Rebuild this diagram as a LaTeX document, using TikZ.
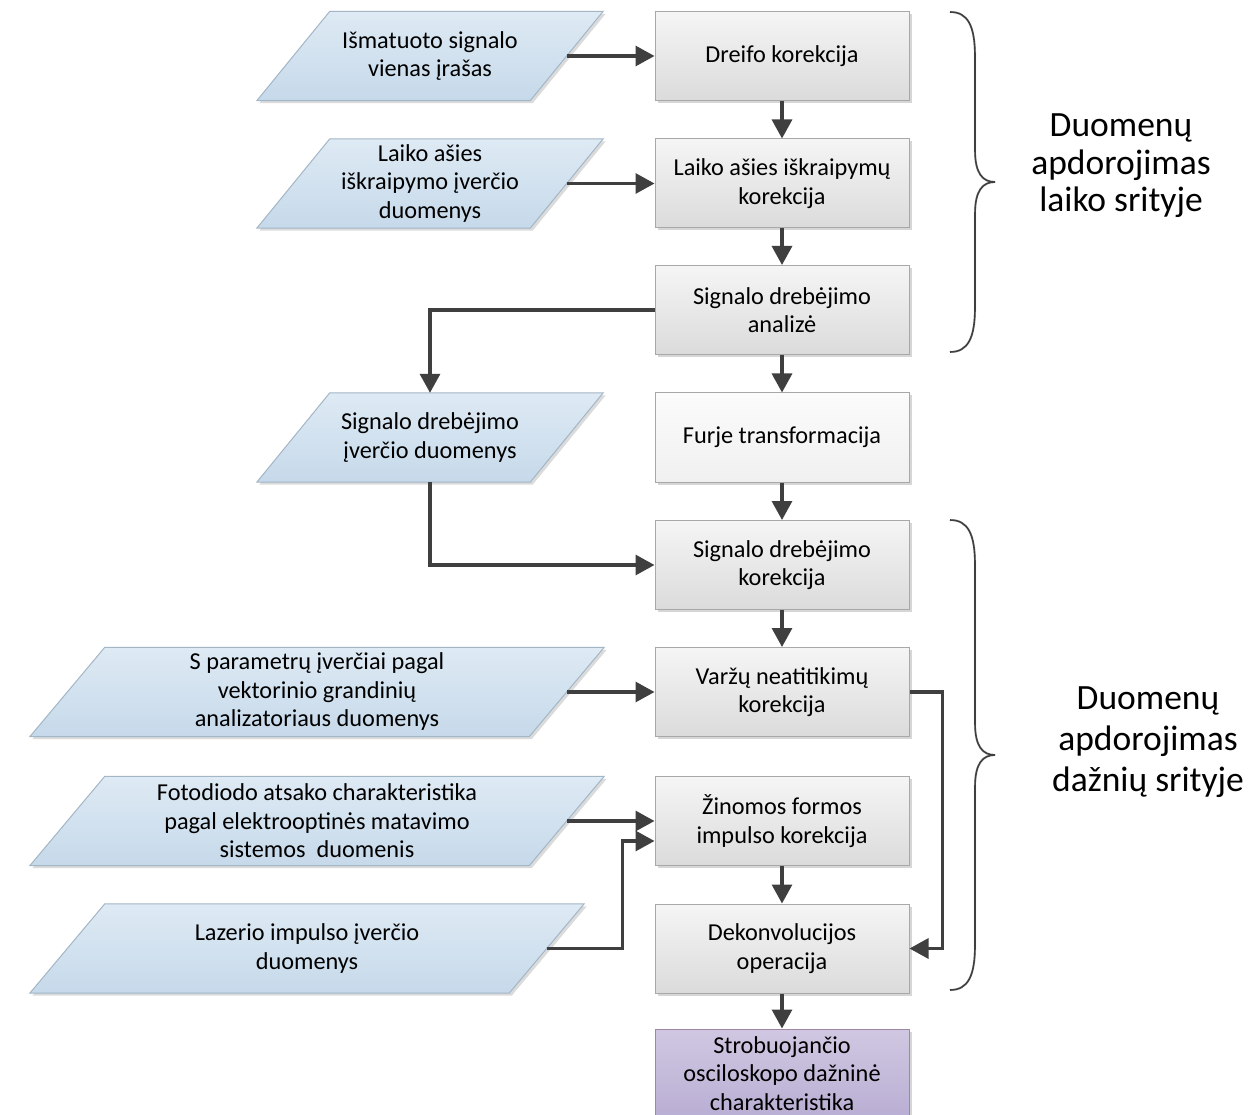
\documentclass[tikz,border=0pt]{standalone}
\usepackage{fontspec}
\setmainfont{Carlito}
\usetikzlibrary{arrows.meta,shadows,calc}

\definecolor{paraA}{HTML}{DEEAF4}
\definecolor{paraB}{HTML}{C6D9EA}
\definecolor{paraLine}{HTML}{A3B6C6}
\definecolor{boxA}{HTML}{F5F5F5}
\definecolor{boxB}{HTML}{DBDBDB}
\definecolor{boxLine}{HTML}{A8A8A8}
\definecolor{plainA}{HTML}{FBFBFB}
\definecolor{plainB}{HTML}{F0F0F0}
\definecolor{purpA}{HTML}{D0C8E2}
\definecolor{purpB}{HTML}{B9AED3}
\definecolor{ink}{HTML}{3F3F3F}

\pgfdeclarelayer{paper}
\pgfdeclarelayer{bg}
\pgfsetlayers{paper,bg,main}

% slanted input shape drawn behind a text node: #1 node name, #2 half slant
\newcommand\slantbox[2]{%
  \begin{pgfonlayer}{bg}
    \fill[black,opacity=0.14]
      ($(#1.north west)+(#2+2.5,2.5)$) -- ($(#1.north east)+(#2+2.5,2.5)$) --
      ($(#1.south east)+(-#2+2.5,2.5)$) -- ($(#1.south west)+(-#2+2.5,2.5)$) -- cycle;
    \path[draw=paraLine, line width=1pt, top color=paraA, bottom color=paraB]
      ($(#1.north west)+(#2,0)$) -- ($(#1.north east)+(#2,0)$) --
      ($(#1.south east)+(-#2,0)$) -- ($(#1.south west)+(-#2,0)$) -- cycle;
  \end{pgfonlayer}}

\tikzset{
  txt/.style={font=\fontsize{24.3}{28.5}\selectfont, align=center},
  stepbox/.style={txt, rectangle, draw=boxLine, line width=1pt,
    top color=boxA, bottom color=boxB, minimum width=254pt, minimum height=89pt,
    drop shadow={shadow xshift=2.5pt, shadow yshift=-2.5pt, opacity=0.16, fill=black}},
  plainbox/.style={stepbox, top color=plainA, bottom color=plainB},
  resultbox/.style={stepbox, top color=purpA, bottom color=purpB, draw=boxLine!80!violet},
  inbox/.style={txt, rectangle, minimum height=89pt, inner sep=0pt},
  arr/.style={draw=ink, line width=3.2pt, -{Triangle[width=20pt,length=19pt]}},
  bigtxt/.style={font=\fontsize{35.5}{#1}\selectfont, align=center}
}

\begin{document}
\begin{tikzpicture}[x=1pt,y=-1pt]
\useasboundingbox (0,0) rectangle (1251,1115);
\begin{pgfonlayer}{paper}
  \fill[white] (0,0) rectangle (1251,1115);
\end{pgfonlayer}

% processing steps
\node[stepbox]   (dreifo) at (782,56)    {Dreifo korekcija};
\node[stepbox]   (laiko)  at (782,183.5) {Laiko ašies iškraipymų\\korekcija};
\node[stepbox]   (anal)   at (782,310)   {Signalo drebėjimo\\analizė};
\node[plainbox]  (furje)  at (782,437.5) {Furje transformacija};
\node[stepbox]   (drkor)  at (782,565)   {Signalo drebėjimo\\korekcija};
\node[stepbox]   (varzu)  at (782,692)   {Varžų neatitikimų\\korekcija};
\node[stepbox]   (zinom)  at (782,821)   {Žinomos formos\\impulso korekcija};
\node[stepbox]   (dekon)  at (782,948.5) {Dekonvolucijos\\operacija};
\node[resultbox] (strob)  at (782,1073.5){Strobuojančio\\osciloskopo dažninė\\charakteristika};

% input data
\node[inbox, minimum width=273pt] (in1) at (430,56)    {Išmatuoto signalo\\vienas įrašas};
\node[inbox, minimum width=273pt] (in2) at (430,183.5) {Laiko ašies\\iškraipymo įverčio\\duomenys};
\node[inbox, minimum width=273pt] (in3) at (430,437.5) {Signalo drebėjimo\\įverčio duomenys};
\node[inbox, minimum width=499pt] (in4) at (317,692)   {S parametrų įverčiai pagal\\vektorinio grandinių\\analizatoriaus duomenys};
\node[inbox, minimum width=499pt] (in5) at (317,821)   {Fotodiodo atsako charakteristika\\pagal elektrooptinės matavimo\\sistemos\ \ duomenis};
\node[inbox, minimum width=479pt] (in6) at (307,948.5) {Lazerio impulso įverčio\\duomenys};
\slantbox{in1}{36.5}
\slantbox{in2}{36.5}
\slantbox{in3}{36.5}
\slantbox{in4}{37.5}
\slantbox{in5}{37.5}
\slantbox{in6}{37.5}

% main flow
\draw[arr] (dreifo) -- (laiko);
\draw[arr] (laiko) -- (anal);
\draw[arr] (anal) -- (furje);
\draw[arr] (furje) -- (drkor);
\draw[arr] (drkor) -- (varzu);
\draw[arr] (zinom) -- (dekon);
\draw[arr] (dekon) -- (strob);

% inputs into the steps
\draw[arr] (in1) -- (dreifo);
\draw[arr] (in2) -- (laiko);
\draw[arr] (anal.west) -| (in3.north);
\draw[arr] (in3.south) |- (drkor.west);
\draw[arr] (in4) -- (varzu);
\draw[arr] (in5) -- (zinom);
\draw[arr] (in6.east) -- ++(75.5,0) |- ($(zinom.west)+(0,20)$);
\draw[arr] (varzu.east) -- ++(33,0) |- (dekon.east);

% braces
\coordinate (b1top) at (950,12);
\coordinate (b1tip) at (995,182);
\coordinate (b1bot) at (950,352);
\coordinate (b2top) at (950,520);
\coordinate (b2tip) at (995,755);
\coordinate (b2bot) at (950,990);
\foreach \t/\m/\b in {b1top/b1tip/b1bot, b2top/b2tip/b2bot}{
  \foreach \dx/\col/\lw in {2/black!18/2.2pt, 0/ink/1.6pt}{
    \draw[line width=\lw, draw=\col, xshift=\dx pt]
      (\t) .. controls ($(\t)+(18,0)$) and ($(\t)+(25,14)$) .. ($(\t)+(25,45)$)
      -- ($(\m)+(-20,-32)$)
      .. controls ($(\m)+(-20,-8)$) and ($(\m)+(-12,0)$) .. (\m)
      .. controls ($(\m)+(-12,0)$) and ($(\m)+(-20,8)$) .. ($(\m)+(-20,32)$)
      -- ($(\b)+(25,-45)$)
      .. controls ($(\b)+(25,-14)$) and ($(\b)+(18,0)$) .. (\b);
  }
}

% section labels
\node[bigtxt=37.5] (lbltime) at (1121,166) {Duomenų\\apdorojimas\\laiko srityje};
\node[bigtxt=41]   (lblfreq) at (1148,742) {Duomenų\\apdorojimas\\dažnių srityje};
\end{tikzpicture}
\end{document}
